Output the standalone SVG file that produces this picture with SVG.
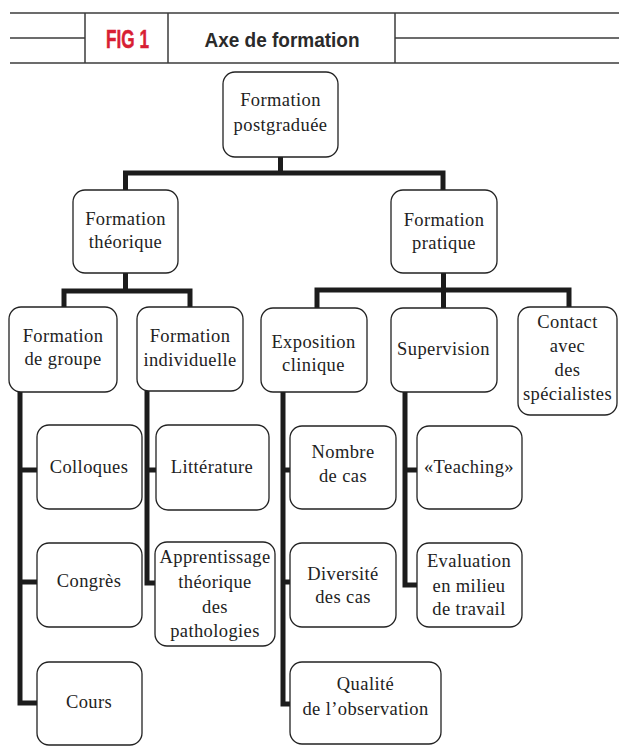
<svg xmlns="http://www.w3.org/2000/svg" width="619" height="749" viewBox="0 0 619 749">
<style>
  .hdr { stroke: #3c3c3c; stroke-width: 1.5; fill: none; }
  .box { fill: #ffffff; stroke: #222222; stroke-width: 1.3; }
  .conn { fill: none; stroke: #1c1c1c; stroke-width: 5; stroke-linejoin: miter; stroke-linecap: butt; }
  .t { font-family: "Liberation Serif", "DejaVu Serif", serif; font-size: 18.5px; letter-spacing: 0.4px; fill: #222222; text-anchor: middle; }
  .fig { font-family: "Liberation Sans", Arial, sans-serif; font-weight: bold; font-size: 26px; fill: #d81e34; stroke: #d81e34; stroke-width: 0.5; text-anchor: middle; }
  .ttl { font-family: "Liberation Sans", Arial, sans-serif; font-weight: bold; font-size: 20px; fill: #2a2a2a; text-anchor: middle; }
</style>
<rect width="619" height="749" fill="#ffffff"/>
<g id="header">
  <path class="hdr" d="M10 13 H619 M10 63 H619 M10 38 H85 M395 38 H619 M85 13 V63 M168 13 V63 M395 13 V63"/>
  <text class="fig" x="127.5" y="48.3" textLength="43" lengthAdjust="spacingAndGlyphs">FIG 1</text>
  <text class="ttl" x="282" y="46.7" textLength="155" lengthAdjust="spacingAndGlyphs">Axe de formation</text>
</g>
<g id="connectors">
  <path class="conn" d="M280.5 157 V173"/>
  <path class="conn" d="M125.5 190 V173 H443 V190"/>
  <path class="conn" d="M125.5 273 V291"/>
  <path class="conn" d="M64 307 V291 H190 V307"/>
  <path class="conn" d="M443.5 273 V308"/>
  <path class="conn" d="M317 308 V290 H569 V307"/>
  <path class="conn" d="M20 392 V703 H37 M20 470 H37 M20 582 H37"/>
  <path class="conn" d="M147 391 V583 H155 M147 470 H156"/>
  <path class="conn" d="M283 392 V704 H290 M283 470 H290 M283 582 H290"/>
  <path class="conn" d="M405 392 V585 H417 M405 470 H417"/>
</g>
<g id="n-postgraduee">
  <rect class="box" x="223" y="72" width="115" height="85" rx="12"/>
  <text class="t" x="280.5" y="106">Formation</text>
  <text class="t" x="280.5" y="131">postgraduée</text>
</g>
<g id="n-theorique">
  <rect class="box" x="73" y="190" width="105" height="83" rx="12"/>
  <text class="t" x="125.5" y="225">Formation</text>
  <text class="t" x="125.5" y="248">théorique</text>
</g>
<g id="n-pratique">
  <rect class="box" x="391" y="190" width="106" height="83" rx="12"/>
  <text class="t" x="444" y="226">Formation</text>
  <text class="t" x="444" y="249">pratique</text>
</g>
<g id="n-groupe">
  <rect class="box" x="9" y="307" width="108" height="85" rx="12"/>
  <text class="t" x="63" y="342">Formation</text>
  <text class="t" x="63" y="365">de groupe</text>
</g>
<g id="n-individuelle">
  <rect class="box" x="137" y="307" width="106" height="84" rx="12"/>
  <text class="t" x="190" y="342">Formation</text>
  <text class="t" x="190" y="366">individuelle</text>
</g>
<g id="n-exposition">
  <rect class="box" x="261" y="308" width="106" height="84" rx="12"/>
  <text class="t" x="313.5" y="348">Exposition</text>
  <text class="t" x="313.5" y="371">clinique</text>
</g>
<g id="n-supervision">
  <rect class="box" x="391" y="308" width="106" height="84" rx="12"/>
  <text class="t" x="443.5" y="355">Supervision</text>
</g>
<g id="n-contact">
  <rect class="box" x="518" y="307" width="99" height="108" rx="12"/>
  <text class="t" x="567.5" y="328">Contact</text>
  <text class="t" x="567.5" y="352">avec</text>
  <text class="t" x="567.5" y="376">des</text>
  <text class="t" x="567.5" y="400">spécialistes</text>
</g>
<g id="n-colloques">
  <rect class="box" x="37" y="425" width="105" height="84" rx="12"/>
  <text class="t" x="89" y="473">Colloques</text>
</g>
<g id="n-congres">
  <rect class="box" x="37" y="543" width="105" height="84" rx="12"/>
  <text class="t" x="89" y="587">Congrès</text>
</g>
<g id="n-cours">
  <rect class="box" x="37" y="662" width="105" height="83" rx="12"/>
  <text class="t" x="89" y="708">Cours</text>
</g>
<g id="n-litterature">
  <rect class="box" x="156" y="425" width="113" height="85" rx="12"/>
  <text class="t" x="212" y="473">Littérature</text>
</g>
<g id="n-apprentissage">
  <rect class="box" x="155" y="542" width="120" height="104" rx="12"/>
  <text class="t" x="215" y="563">Apprentissage</text>
  <text class="t" x="215" y="588">théorique</text>
  <text class="t" x="215" y="613">des</text>
  <text class="t" x="215" y="637">pathologies</text>
</g>
<g id="n-nombre">
  <rect class="box" x="290" y="426" width="106" height="83" rx="12"/>
  <text class="t" x="343" y="458">Nombre</text>
  <text class="t" x="343" y="482">de cas</text>
</g>
<g id="n-teaching">
  <rect class="box" x="417" y="426" width="105" height="83" rx="12"/>
  <text class="t" x="469" y="473">«Teaching»</text>
</g>
<g id="n-diversite">
  <rect class="box" x="290" y="543" width="106" height="84" rx="12"/>
  <text class="t" x="343" y="580">Diversité</text>
  <text class="t" x="343" y="603">des cas</text>
</g>
<g id="n-evaluation">
  <rect class="box" x="417" y="543" width="105" height="84" rx="12"/>
  <text class="t" x="469" y="567">Evaluation</text>
  <text class="t" x="469" y="592">en milieu</text>
  <text class="t" x="469" y="615">de travail</text>
</g>
<g id="n-qualite">
  <rect class="box" x="290" y="662" width="151" height="82" rx="12"/>
  <text class="t" x="365.5" y="690">Qualité</text>
  <text class="t" x="365.5" y="715">de l’observation</text>
</g>
</svg>
